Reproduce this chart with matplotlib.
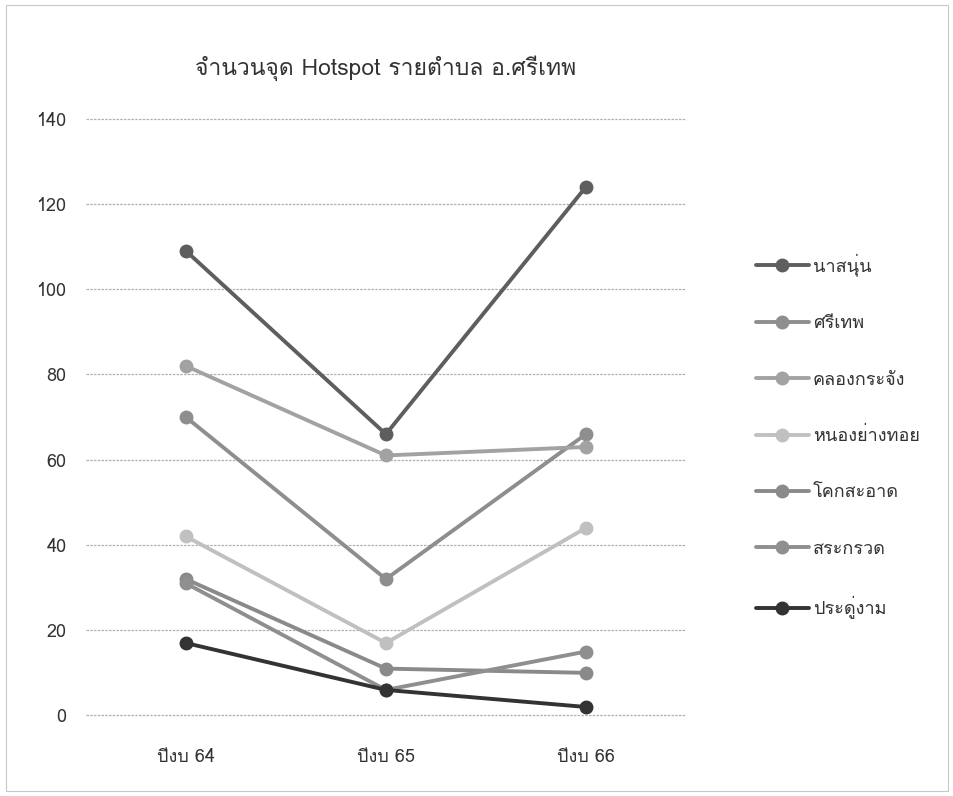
import matplotlib
matplotlib.use("Agg")
import matplotlib.pyplot as plt
from matplotlib import font_manager
from matplotlib.patches import Rectangle

# ---- find a font with Thai glyphs ----
thai_family = None
try:
    from fontTools.ttLib import TTFont
    for fe in font_manager.fontManager.ttflist:
        try:
            f = TTFont(fe.fname, fontNumber=0, lazy=True)
            cmap = f.getBestCmap()
            if cmap and 0x0E08 in cmap and 0x0E1E in cmap:
                thai_family = fe.name
                break
        except Exception:
            continue
except Exception:
    pass
families = ([thai_family] if thai_family else []) + ['DejaVu Sans']
plt.rcParams['font.family'] = families

# ---- data ----
title = "จำนวนจุด Hotspot รายตำบล อ.ศรีเทพ"
categories = ["ปีงบ 64", "ปีงบ 65", "ปีงบ 66"]
series_names = ["นาสนุ่น", "ศรีเทพ", "คลองกระจัง", "หนองย่างทอย", "โคกสะอาด", "สระกรวด", "ประดู่งาม"]
naasanun = [109, 66, 124]
sithep = [70, 32, 66]
khlongkrachang = [82, 61, 63]
nongyangthoi = [42, 17, 44]
khoksaat = [32, 11, 10]
sakruat = [31, 6, 15]
pradungam = [17, 6, 2]
series_values = [naasanun, sithep, khlongkrachang, nongyangthoi, khoksaat, sakruat, pradungam]
colors = ["#5e5e5e", "#8e8e8e", "#a2a2a2", "#c0c0c0", "#8a8a8a", "#8f8f8f", "#333333"]
yticks = [0, 20, 40, 60, 80, 100, 120, 140]

fig = plt.figure(figsize=(9.54, 7.96), dpi=100)
ax = fig.add_axes([0.090, 0.099, 0.629, 0.754])

x = list(range(len(categories)))
for name, vals, c in zip(series_names, series_values, colors):
    ax.plot(x, vals, color=c, lw=2.8, marker='o', markersize=9,
            markerfacecolor=c, markeredgecolor=c, label=name, solid_capstyle='round')

ax.set_xlim(-0.5, 2.5)
ax.set_ylim(-0.4, 140.4)
ax.set_yticks(yticks)
ax.set_xticks(x)
ax.set_xticklabels(categories)
ax.tick_params(axis='both', length=0, labelsize=13, colors='#333333')
ax.tick_params(axis='y', pad=14)
ax.tick_params(axis='x', pad=22)
ax.grid(axis='y', color='#b0b0b0', lw=0.9, linestyle=(0, (2, 1)))
ax.set_axisbelow(True)
for s in ax.spines.values():
    s.set_visible(False)

fig.text(0.404, 0.914, title, ha='center', va='center', fontsize=16.5, color='#333333')

leg = ax.legend(loc='upper left', bbox_to_anchor=(1.09, 0.80), frameon=False,
                fontsize=13, labelspacing=2.12, handlelength=2.9, handletextpad=0.25,
                labelcolor='#333333')

fig.patches.append(Rectangle((0.006, 0.006), 0.988, 0.988, transform=fig.transFigure,
                             fill=False, edgecolor='#c8c8c8', lw=0.8))

fig.savefig("out.png", dpi=100, facecolor='white')
